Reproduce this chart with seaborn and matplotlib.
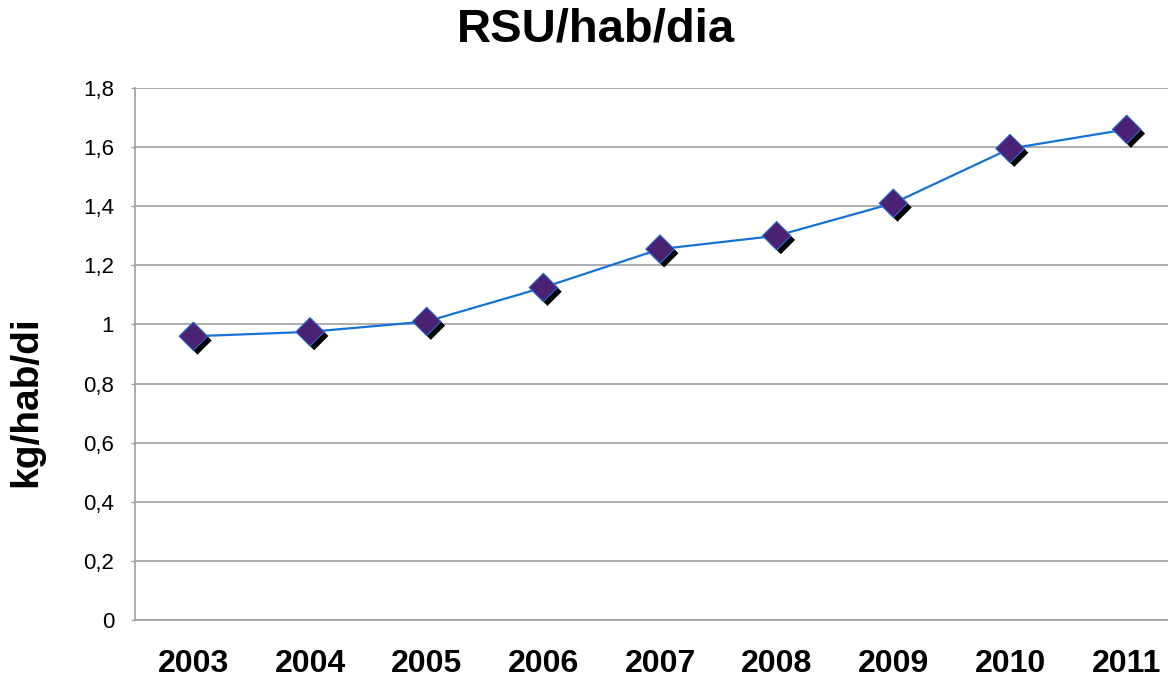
import numpy as np
import pandas as pd
import seaborn as sns
import matplotlib.pyplot as plt
import matplotlib.patheffects as pe

# dados
anos = ["2003", "2004", "2005", "2006", "2007", "2008", "2009", "2010", "2011"]
rsu = [0.96, 0.975, 1.01, 1.125, 1.255, 1.30, 1.41, 1.595, 1.66]
yticks = [0, 0.2, 0.4, 0.6, 0.8, 1.0, 1.2, 1.4, 1.6, 1.8]
ytick_labels = ["0", "0,2", "0,4", "0,6", "0,8", "1", "1,2", "1,4", "1,6", "1,8"]

df = pd.DataFrame({"ano": anos, "valor": rsu})
df["pos"] = np.arange(len(anos))

sns.set_style("white")
plt.rcParams["font.family"] = ["Liberation Sans", "DejaVu Sans"]
plt.rcParams["text.color"] = "black"
plt.rcParams["xtick.color"] = "black"
plt.rcParams["ytick.color"] = "black"
plt.rcParams["axes.labelcolor"] = "black"

fig = plt.figure(figsize=(11.68, 6.77), dpi=100)
ax = fig.add_axes([135 / 1168, 57 / 677, 1050 / 1168, 532 / 677])

sns.lineplot(data=df, x="pos", y="valor", ax=ax, color="#1673d6", linewidth=1.6, zorder=3)
pts = sns.scatterplot(data=df, x="pos", y="valor", ax=ax, marker="D", s=210,
                      color="#4a2173", edgecolor="#2a6fd0", linewidth=0.8, zorder=4)
pts.collections[-1].set_path_effects([
    pe.SimplePatchShadow(offset=(3, -3), shadow_rgbFace="black", alpha=1.0),
    pe.Normal(),
])

ax.set_xlim(-0.5, len(anos) - 0.5)
ax.set_ylim(0, 1.8)
ax.set_xticks(df["pos"])
ax.set_xticklabels(anos, fontsize=23, fontweight="bold")
ax.set_yticks(yticks)
ax.set_yticklabels(ytick_labels, fontsize=16)
ax.tick_params(axis="x", length=0, pad=21)
ax.tick_params(axis="y", length=3, width=1, color="#a0a0a0", pad=12, left=True)

ax.yaxis.grid(True, color="#a0a0a0", linewidth=1.2)
ax.xaxis.grid(False)
for s in ["top", "right"]:
    ax.spines[s].set_visible(False)
for s in ["left", "bottom"]:
    ax.spines[s].set_color("#a0a0a0")
    ax.spines[s].set_linewidth(1.2)

ax.set_xlabel("")
ax.set_ylabel("kg/hab/di", fontsize=28, fontweight="bold")
ax.yaxis.set_label_coords(44 / 1168, 1 - 402 / 677, transform=fig.transFigure)

fig.text(596 / 1168, 1 - 30 / 677, "RSU/hab/dia", fontsize=34, fontweight="bold",
         ha="center", va="center")

fig.savefig("out.png", dpi=100)
